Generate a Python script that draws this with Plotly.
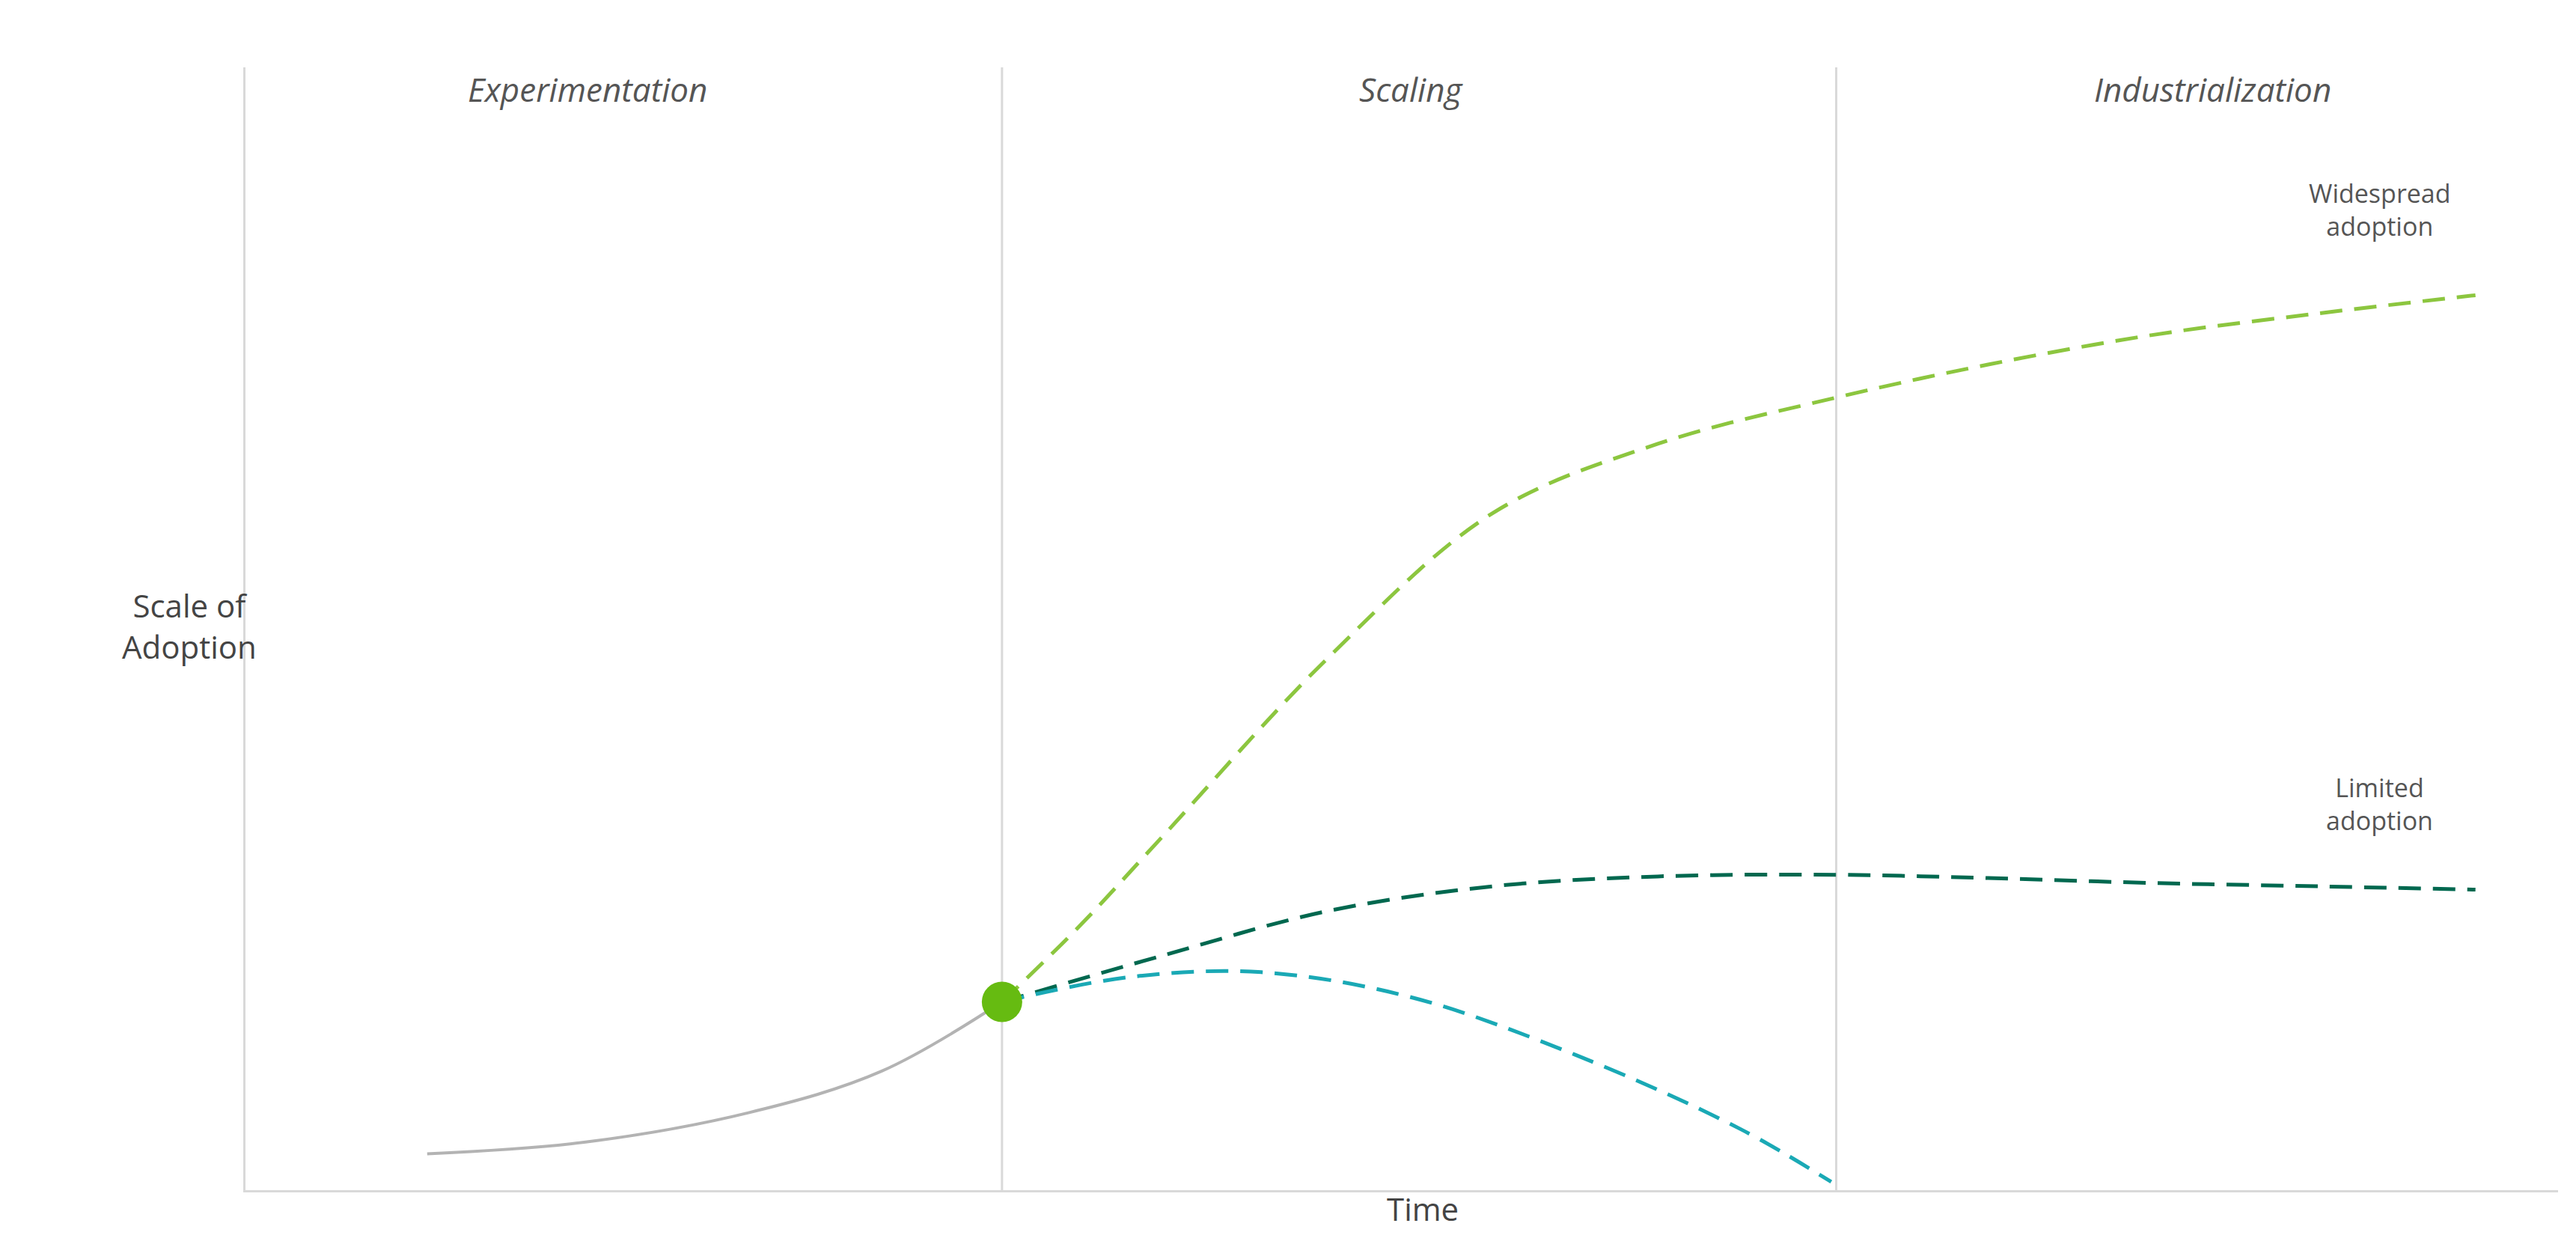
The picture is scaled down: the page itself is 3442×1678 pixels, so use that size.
import plotly.graph_objects as go

# positions in chart units (x: time, y: scale of adoption)
phase_names = ["Experimentation", "Scaling", "Industrialization"]
phase_label_x = [352, 851, 1336]
phase_dividers = [603, 1108]

past_x = [255, 350, 450, 530, 603]
past_y = [22, 29, 47, 72, 114]

wide_x = [603, 650, 700, 800, 900, 1000, 1108, 1200, 1300, 1400, 1495]
wide_y = [114, 160, 214, 322, 410, 452, 480, 500, 518, 531, 542]

limited_x = [603, 700, 800, 900, 1000, 1108, 1200, 1300, 1400, 1495]
limited_y = [114, 142, 169, 184, 190, 191, 189, 186, 184, 182]

decline_x = [603, 680, 760, 850, 950, 1050, 1105]
decline_y = [114, 129, 132, 117, 82, 37, 5]

dash = "30px,16px"

fig = go.Figure()

fig.add_trace(go.Scatter(x=past_x, y=past_y, mode="lines",
                         line=dict(color="#b3b3b3", width=4, shape="spline"),
                         hoverinfo="none"))
fig.add_trace(go.Scatter(x=wide_x, y=wide_y, mode="lines",
                         line=dict(color="#8cc63f", width=5, dash=dash, shape="spline"),
                         hoverinfo="none"))
fig.add_trace(go.Scatter(x=limited_x, y=limited_y, mode="lines",
                         line=dict(color="#00684f", width=5, dash=dash, shape="spline"),
                         hoverinfo="none"))
fig.add_trace(go.Scatter(x=decline_x, y=decline_y, mode="lines",
                         line=dict(color="#1aa9b5", width=5, dash=dash, shape="spline"),
                         hoverinfo="none"))
fig.add_trace(go.Scatter(x=[past_x[-1]], y=[past_y[-1]], mode="markers",
                         marker=dict(color="#66bb11", size=54),
                         hoverinfo="none"))

for xd in phase_dividers:
    fig.add_shape(type="line", x0=xd, x1=xd, y0=0, y1=680,
                  line=dict(color="#d9d9d9", width=3), layer="below")

for name, xl in zip(phase_names, phase_label_x):
    fig.add_annotation(x=xl, y=667, text="<i>" + name + "</i>", showarrow=False,
                       font=dict(size=44, color="#555555"))

fig.add_annotation(x=1437, y=594, text="Widespread<br>adoption", showarrow=False,
                   font=dict(size=34, color="#555555"))
fig.add_annotation(x=1437, y=234, text="Limited<br>adoption", showarrow=False,
                   font=dict(size=34, color="#555555"))
fig.add_annotation(x=-0.054, y=0.503, xref="paper", yref="paper",
                   text="Scale of<br>Adoption", showarrow=False,
                   font=dict(size=42, color="#444444"))
fig.add_annotation(x=0.509, y=-0.037, xref="paper", yref="paper",
                   text="Time", showarrow=False,
                   font=dict(size=42, color="#444444"))

fig.update_layout(
    width=3442, height=1678,
    plot_bgcolor="white", paper_bgcolor="white",
    showlegend=False,
    font=dict(family="Open Sans"),
    margin=dict(l=320, r=32, t=82, b=96),
    xaxis=dict(range=[145, 1545], showgrid=False, zeroline=False, showticklabels=False,
               showline=True, linecolor="#d9d9d9", linewidth=3),
    yaxis=dict(range=[0, 680], showgrid=False, zeroline=False, showticklabels=False,
               showline=True, linecolor="#d9d9d9", linewidth=3),
)

fig.write_html("out.html")
